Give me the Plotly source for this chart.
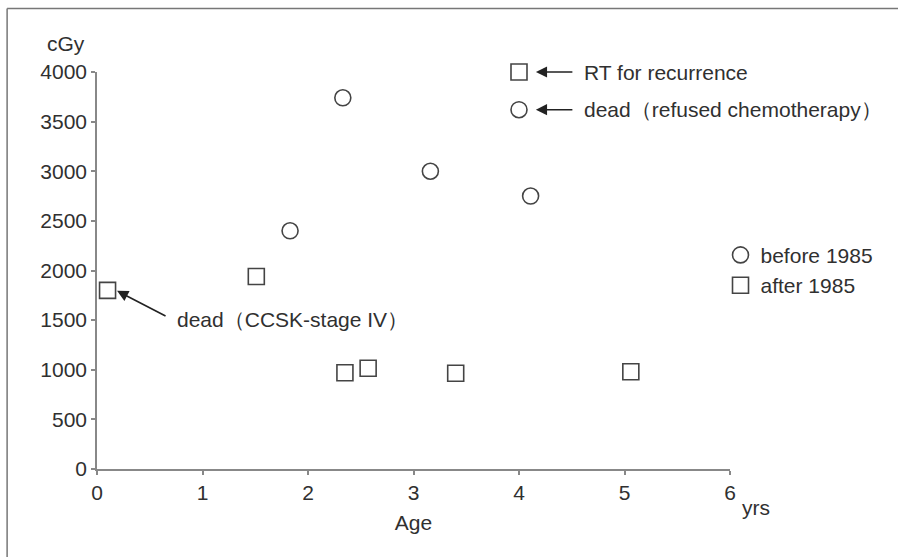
import plotly.graph_objects as go

# Data
before_age = [1.83, 2.33, 3.16, 4.11]
before_dose = [2400, 3740, 3000, 2750]

after_age = [0.1, 1.51, 2.35, 2.57, 3.40, 5.06]
after_dose = [1800, 1940, 970, 1015, 965, 980]

# key markers drawn inside plot
key_square_x = [4.0]
key_square_y = [4000]
key_circle_x = [4.0]
key_circle_y = [3620]

x_ticks = [0, 1, 2, 3, 4, 5, 6]
y_ticks = [0, 500, 1000, 1500, 2000, 2500, 3000, 3500, 4000]

FONT = "Liberation Sans, Arial, Helvetica, sans-serif"
TXT = "#303030"
MK = "#444444"
AX = "#888888"
FS = 21

fig = go.Figure()
fig.add_trace(go.Scatter(
    x=before_age, y=before_dose, mode="markers", name="before 1985",
    marker=dict(symbol="circle-open", size=16, color=MK, line=dict(width=1.6, color=MK)),
    cliponaxis=False))
fig.add_trace(go.Scatter(
    x=after_age, y=after_dose, mode="markers", name="after 1985",
    marker=dict(symbol="square-open", size=16, color=MK, line=dict(width=1.6, color=MK)),
    cliponaxis=False))
fig.add_trace(go.Scatter(
    x=key_square_x, y=key_square_y, mode="markers", showlegend=False,
    marker=dict(symbol="square-open", size=16, color=MK, line=dict(width=1.6, color=MK)),
    cliponaxis=False))
fig.add_trace(go.Scatter(
    x=key_circle_x, y=key_circle_y, mode="markers", showlegend=False,
    marker=dict(symbol="circle-open", size=16, color=MK, line=dict(width=1.6, color=MK)),
    cliponaxis=False))

fig.update_layout(
    width=898, height=557,
    margin=dict(l=97, r=168, t=72, b=88),
    paper_bgcolor="white", plot_bgcolor="white",
    font=dict(family=FONT, size=FS, color=TXT),
    showlegend=True,
    legend=dict(x=0.985, y=0.59, xanchor="left", yanchor="top",
                bgcolor="rgba(0,0,0,0)", font=dict(size=FS, color=TXT),
                tracegroupgap=0, itemsizing="trace"),
)
fig.update_xaxes(
    range=[0, 6], tickvals=x_ticks, showgrid=False, zeroline=False,
    showline=True, linecolor=AX, linewidth=1.5, ticks="outside", ticklen=4,
    tickcolor=AX, tickwidth=1.5, tickfont=dict(size=FS, color=TXT),
    title=dict(text="Age", font=dict(size=FS, color=TXT), standoff=12))
fig.update_yaxes(
    range=[0, 4000], tickvals=y_ticks, showgrid=False, zeroline=False,
    showline=True, linecolor=AX, linewidth=1.5, ticks="outside", ticklen=4,
    tickcolor=AX, tickwidth=1.5, tickfont=dict(size=FS, color=TXT))

ann = []
# unit labels
ann.append(dict(text="cGy", xref="paper", yref="y", x=0, y=4000, xanchor="right",
                yanchor="middle", xshift=-10, yshift=29, showarrow=False,
                font=dict(size=FS, color=TXT)))
ann.append(dict(text="yrs", xref="x", yref="paper", x=6, y=-0.098, xanchor="left",
                yanchor="middle", xshift=10, showarrow=False, font=dict(size=FS, color=TXT)))
# key texts
ann.append(dict(text="RT for recurrence", xref="x", yref="y", x=4.6, y=4000,
                xanchor="left", yanchor="middle", showarrow=False, font=dict(size=FS, color=TXT)))
ann.append(dict(text="dead（refused chemotherapy）", xref="x", yref="y", x=4.6, y=3620,
                xanchor="left", yanchor="middle", showarrow=False, font=dict(size=FS, color=TXT)))
ann.append(dict(text="dead（CCSK-stage IV）", xref="x", yref="y", x=0.74, y=1510,
                xanchor="left", yanchor="middle", showarrow=False, font=dict(size=FS, color=TXT)))
# arrows
arrow_style = dict(showarrow=True, arrowhead=2, arrowsize=1.4, arrowwidth=1.6,
                   arrowcolor="#222222", text="", xref="x", yref="y")
ann.append(dict(x=4.16, y=4000, ax=38, ay=0, **arrow_style))
ann.append(dict(x=4.16, y=3620, ax=38, ay=0, **arrow_style))
ann.append(dict(x=0.19, y=1795, ax=50, ay=26, **arrow_style))
fig.update_layout(annotations=ann)

# figure border (top and left)
fig.add_shape(type="line", xref="paper", yref="paper", x0=-0.142, x1=1.3, y0=1.16, y1=1.16,
              line=dict(color="#777777", width=1.5))
fig.add_shape(type="line", xref="paper", yref="paper", x0=-0.142, x1=-0.142, y0=1.16, y1=-0.3,
              line=dict(color="#777777", width=1.5))

fig.write_html("out.html", config={"displayModeBar": False},
               post_script="document.body.style.margin='0';")
